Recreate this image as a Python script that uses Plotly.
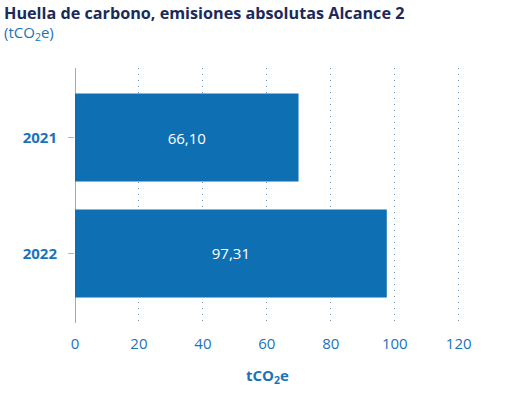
import plotly.graph_objects as go

# Data
years = ["2021", "2022"]
bar_lengths = [69.9, 97.5]          # bar ends as drawn on the x scale
bar_labels = ["66,10", "97,31"]     # printed values inside the bars
x_ticks = [0, 20, 40, 60, 80, 100, 120]

blue = "#0f6fb3"
text_blue = "#1a73b9"
navy = "#1b2a5c"
font = "Open Sans, Noto Sans, sans-serif"

# plot area in pixels: x 75..460, y 68..323
plot_w = 385
plot_h = 255

fig = go.Figure()
fig.add_trace(go.Bar(
    x=bar_lengths,
    y=years,
    orientation="h",
    marker=dict(color=blue, line=dict(width=0)),
    width=0.76,
    text=bar_labels,
    textposition="inside",
    insidetextanchor="middle",
    textfont=dict(color="white", size=15, family=font),
    hoverinfo="skip",
))

# title and subtitle as annotations (top-left of the page)
fig.add_annotation(
    text="<b>Huella de carbono, emisiones absolutas Alcance 2</b>",
    xref="paper", yref="paper",
    x=(2 - 75) / plot_w, y=1 + (68 - 0) / plot_h,
    xanchor="left", yanchor="top", showarrow=False,
    font=dict(size=16.2, color=navy, family=font),
)
fig.add_annotation(
    text="(tCO<sub>2</sub>e)",
    xref="paper", yref="paper",
    x=(2 - 75) / plot_w, y=1 + (68 - 20) / plot_h,
    xanchor="left", yanchor="top", showarrow=False,
    font=dict(size=15, color=text_blue, family=font),
)

fig.update_layout(
    width=526,
    height=413,
    margin=dict(l=75, r=66, t=68, b=90, autoexpand=False),
    paper_bgcolor="white",
    plot_bgcolor="white",
    showlegend=False,
    font=dict(family=font, color=text_blue),
    xaxis=dict(
        range=[0, 120.4],
        tickvals=x_ticks,
        ticktext=[str(v) for v in x_ticks],
        showgrid=True,
        gridcolor="#6f93bd",
        griddash="1px,5px",
        gridwidth=1,
        zeroline=True,
        zerolinecolor="#8eaed3",
        zerolinewidth=1,
        showline=False,
        ticks="",
        tickfont=dict(size=15, color=text_blue),
        ticklabelstandoff=10,
        title=dict(text="<b>tCO<sub>2</sub>e</b>", font=dict(size=15, color=text_blue), standoff=18),
        automargin=False,
        fixedrange=True,
    ),
    yaxis=dict(
        categoryorder="array",
        categoryarray=years,
        range=[1.6, -0.6],
        showgrid=False,
        zeroline=False,
        showline=False,
        ticks="outside",
        ticklen=6,
        tickcolor="#9dbbdc",
        tickfont=dict(size=15, color=text_blue, family=font),
        tickprefix="<b>",
        ticksuffix="</b>",
        ticklabelstandoff=8,
        automargin=False,
        fixedrange=True,
    ),
)

# drop the page's default body margin so the figure sits at the top-left corner
fig.write_html(
    "out.html",
    config={"displayModeBar": False},
    post_script="document.body.style.margin='0';",
)
